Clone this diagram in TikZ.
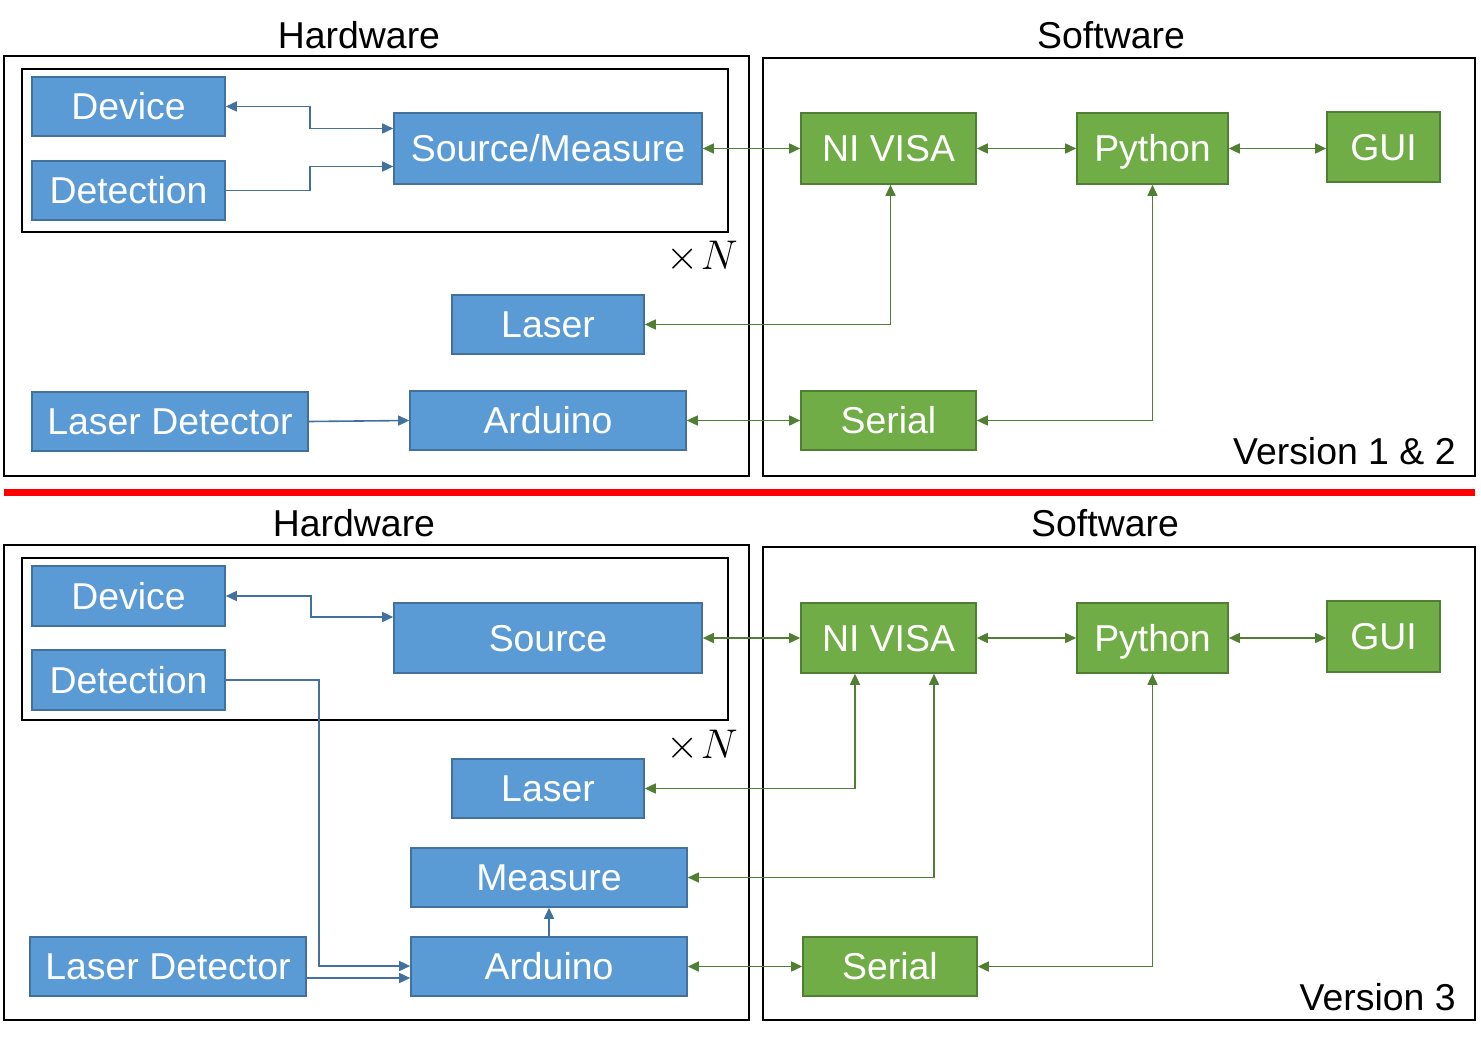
\documentclass[tikz,border=0pt]{standalone}
\usepackage{fontspec}
\setmainfont{Liberation Sans}
\definecolor{BoxBlue}{RGB}{91, 155, 213}
\definecolor{EdgeBlue}{RGB}{65, 113, 156}
\definecolor{BoxGreen}{RGB}{112, 173, 71}
\definecolor{EdgeGreen}{RGB}{80, 126, 50}
\usetikzlibrary{arrows.meta, positioning, calc}

\begin{document}
\begin{tikzpicture}[x=0.5pt, y=-0.5pt, every node/.style={font=\fontsize{18.7}{22}\selectfont, inner sep=2pt},
    hwbox/.style={draw=EdgeBlue, line width=0.8pt, fill=BoxBlue, text=white, rectangle, minimum height=29.5pt, text height=13.4pt, text depth=0pt},
    swbox/.style={draw=EdgeGreen, line width=0.8pt, fill=BoxGreen, text=white, rectangle, minimum height=35.5pt, text height=13.4pt, text depth=0pt},
    frame/.style={draw=black, line width=1pt},
    timesn/.style={font=\fontsize{21}{24}\selectfont},
    hwarrow/.style={draw=EdgeBlue, line width=0.8pt, >={Triangle[length=5.5pt, width=5pt]}},
    swarrow/.style={draw=EdgeGreen, line width=0.8pt, >={Triangle[length=5.5pt, width=5pt]}}]
    \useasboundingbox (0,0) rectangle (1481,1042);

    \node (HwA) at (359,35) {Hardware};
    \node (SwA) at (1111,35) {Software};
    \draw[frame] (4,56) rectangle (749,476);
    \draw[frame] (763,58) rectangle (1475,476);
    \draw[frame] (22,69) rectangle (728,232);
    \node[timesn] (NA) at (702,257) {$\mathord{\times}\mkern1mu N$};
    \node[anchor=east] (VerA) at (1460,451) {Version 1 \& 2};

    \node[hwbox, minimum width=96.5pt] (DevA) at (128.5,106.5) {Device};
    \node[hwbox, minimum width=96.5pt] (DetA) at (128.5,190.5) {Detection};
    \node[hwbox, minimum width=154pt, minimum height=35.5pt] (SrcA) at (548,148.5) {Source/Measure};
    \node[hwbox, minimum width=96pt] (LaserA) at (548,324.5) {Laser};
    \node[hwbox, minimum width=138pt] (LdA) at (170,421.5) {Laser Detector};
    \node[hwbox, minimum width=138pt] (ArdA) at (548,420.5) {Arduino};
    \node[swbox, minimum width=87.5pt] (VisaA) at (888.5,148.5) {NI VISA};
    \node[swbox, minimum width=75.5pt] (PyA) at (1152.5,148.5) {Python};
    \node[swbox, minimum width=56.5pt, minimum height=35pt] (GuiA) at (1383.5,147) {GUI};
    \node[swbox, minimum width=87.5pt, minimum height=29.5pt] (SerA) at (888.5,420.5) {Serial};

    \draw[hwarrow, <->] (DevA.east) -- ++(84,0) |- ([yshift=10pt]SrcA.west);
    \draw[hwarrow, ->] (DetA.east) -- ++(84,0) |- ([yshift=-9pt]SrcA.west);
    \draw[swarrow, <->] (SrcA) -- (VisaA);
    \draw[swarrow, <->] (VisaA) -- (PyA);
    \draw[swarrow, <->] (PyA.east) -- (PyA.east -| GuiA.west);
    \draw[swarrow, <->] (LaserA.east) -| ([xshift=1pt]VisaA.south);
    \draw[hwarrow, ->] (LdA.east) -- (ArdA.west);
    \draw[swarrow, <->] (ArdA) -- (SerA);
    \draw[swarrow, <->] (SerA.east) -| (PyA.south);

    \draw[red, line width=3.5pt] (4,492) -- (1475,492);

    \node (HwB) at (354,523) {Hardware};
    \node (SwB) at (1105,523) {Software};
    \draw[frame] (4,545) rectangle (749,1020);
    \draw[frame] (763,547) rectangle (1475,1020);
    \draw[frame] (22,558) rectangle (728,720);
    \node[timesn] (NB) at (702,746) {$\mathord{\times}\mkern1mu N$};
    \node[anchor=east] (VerB) at (1460,997) {Version 3};

    \node[hwbox, minimum width=96.5pt, minimum height=30pt] (DevB) at (128.5,596) {Device};
    \node[hwbox, minimum width=96.5pt, minimum height=30pt] (DetB) at (128.5,680) {Detection};
    \node[hwbox, minimum width=154pt, minimum height=35pt] (SrcB) at (548,638) {Source};
    \node[hwbox, minimum width=96pt] (LaserB) at (548,788.5) {Laser};
    \node[hwbox, minimum width=138pt] (MeasB) at (549,877.5) {Measure};
    \node[hwbox, minimum width=138pt] (LdB) at (168,966.5) {Laser Detector};
    \node[hwbox, minimum width=138pt] (ArdB) at (549,966.5) {Arduino};
    \node[swbox, minimum width=87.5pt, minimum height=35pt] (VisaB) at (888.5,638) {NI VISA};
    \node[swbox, minimum width=75.5pt, minimum height=35pt] (PyB) at (1152.5,638) {Python};
    \node[swbox, minimum width=56.5pt, minimum height=35.5pt] (GuiB) at (1383.5,636.5) {GUI};
    \node[swbox, minimum width=87pt, minimum height=29.5pt] (SerB) at (890,966.5) {Serial};

    \draw[hwarrow, <->] (DevB.east) -- ++(85,0) |- ([yshift=10.5pt]SrcB.west);
    \draw[hwarrow, ->] (DetB.east) -- ++(93,0) |- ([yshift=0.25pt]ArdB.west);
    \draw[hwarrow, ->] ([yshift=-5.75pt]LdB.east) -- ([yshift=-5.75pt]ArdB.west);
    \draw[hwarrow, ->] (ArdB) -- (MeasB);
    \draw[swarrow, <->] (SrcB) -- (VisaB);
    \draw[swarrow, <->] (LaserB.east) -| ([xshift=-16.75pt]VisaB.south);
    \draw[swarrow, <->] (MeasB.east) -| ([xshift=22.75pt]VisaB.south);
    \draw[swarrow, <->] (VisaB) -- (PyB);
    \draw[swarrow, <->] (PyB.east) -- (PyB.east -| GuiB.west);
    \draw[swarrow, <->] (ArdB) -- (SerB);
    \draw[swarrow, <->] (SerB.east) -| (PyB.south);
\end{tikzpicture}
\end{document}
